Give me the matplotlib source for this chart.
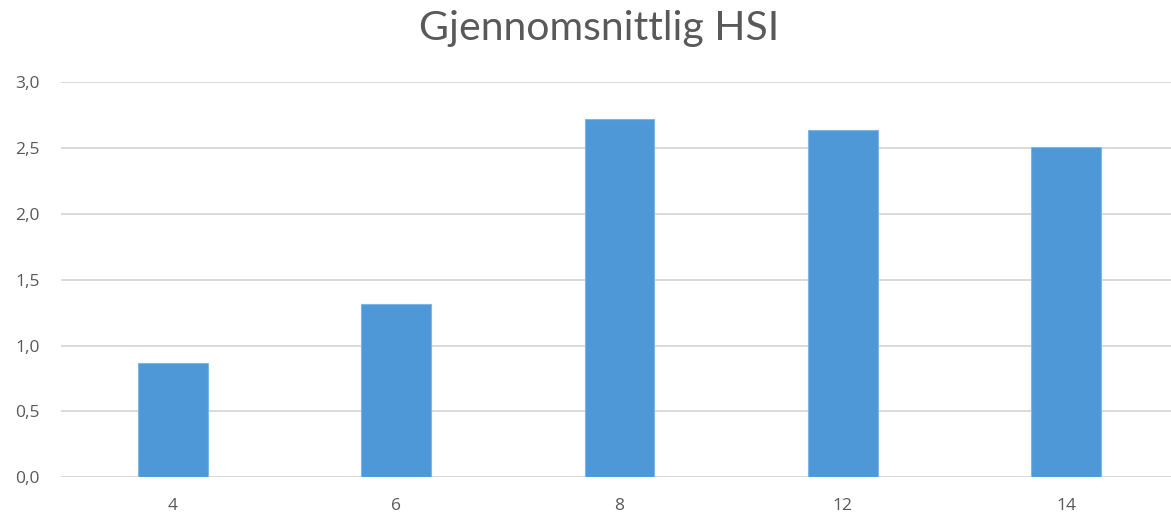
import matplotlib
matplotlib.use("Agg")
import matplotlib.pyplot as plt
from matplotlib.ticker import FuncFormatter, MultipleLocator

categories = ["4", "6", "8", "12", "14"]
hsi_values = [0.866, 1.314, 2.72, 2.635, 2.505]

W, H = 1171, 517
fig = plt.figure(figsize=(W / 100, H / 100), dpi=100)
fig.patch.set_facecolor("white")

# plot area in pixel coordinates (extends slightly past the right edge)
left_px, right_px = 61, 1178
top_px, bottom_px = 82.3, 477.3
ax = fig.add_axes([left_px / W, 1 - bottom_px / H,
                   (right_px - left_px) / W, (bottom_px - top_px) / H])

x = list(range(len(categories)))
ax.bar(x, hsi_values, width=0.313, color="#4F98D7", edgecolor="#7EB6E6",
       linewidth=0.8, zorder=3)

ax.set_xlim(-0.5, len(categories) - 0.5)
ax.set_ylim(0, 3.0)
ax.yaxis.set_major_locator(MultipleLocator(0.5))
ax.yaxis.set_major_formatter(FuncFormatter(lambda v, p: f"{v:.1f}".replace(".", ",")))
ax.set_xticks(x)
ax.set_xticklabels(categories)

ax.grid(axis="y", color="#D9D9D9", linewidth=1.4, zorder=0)
for s in ["top", "right", "left", "bottom"]:
    ax.spines[s].set_visible(False)
ax.tick_params(axis="both", length=0, labelsize=12.5, labelcolor="#595959")
ax.tick_params(axis="y", pad=15.5)
ax.tick_params(axis="x", pad=15)
for lab in ax.get_xticklabels() + ax.get_yticklabels():
    lab.set_fontfamily("Open Sans")

fig.text(599 / W, 1 - 40 / H, "Gjennomsnittlig HSI", ha="center", va="baseline",
         fontsize=29.5, color="#595959", fontfamily="Lato")

fig.savefig("out.png", dpi=100, facecolor="white")
